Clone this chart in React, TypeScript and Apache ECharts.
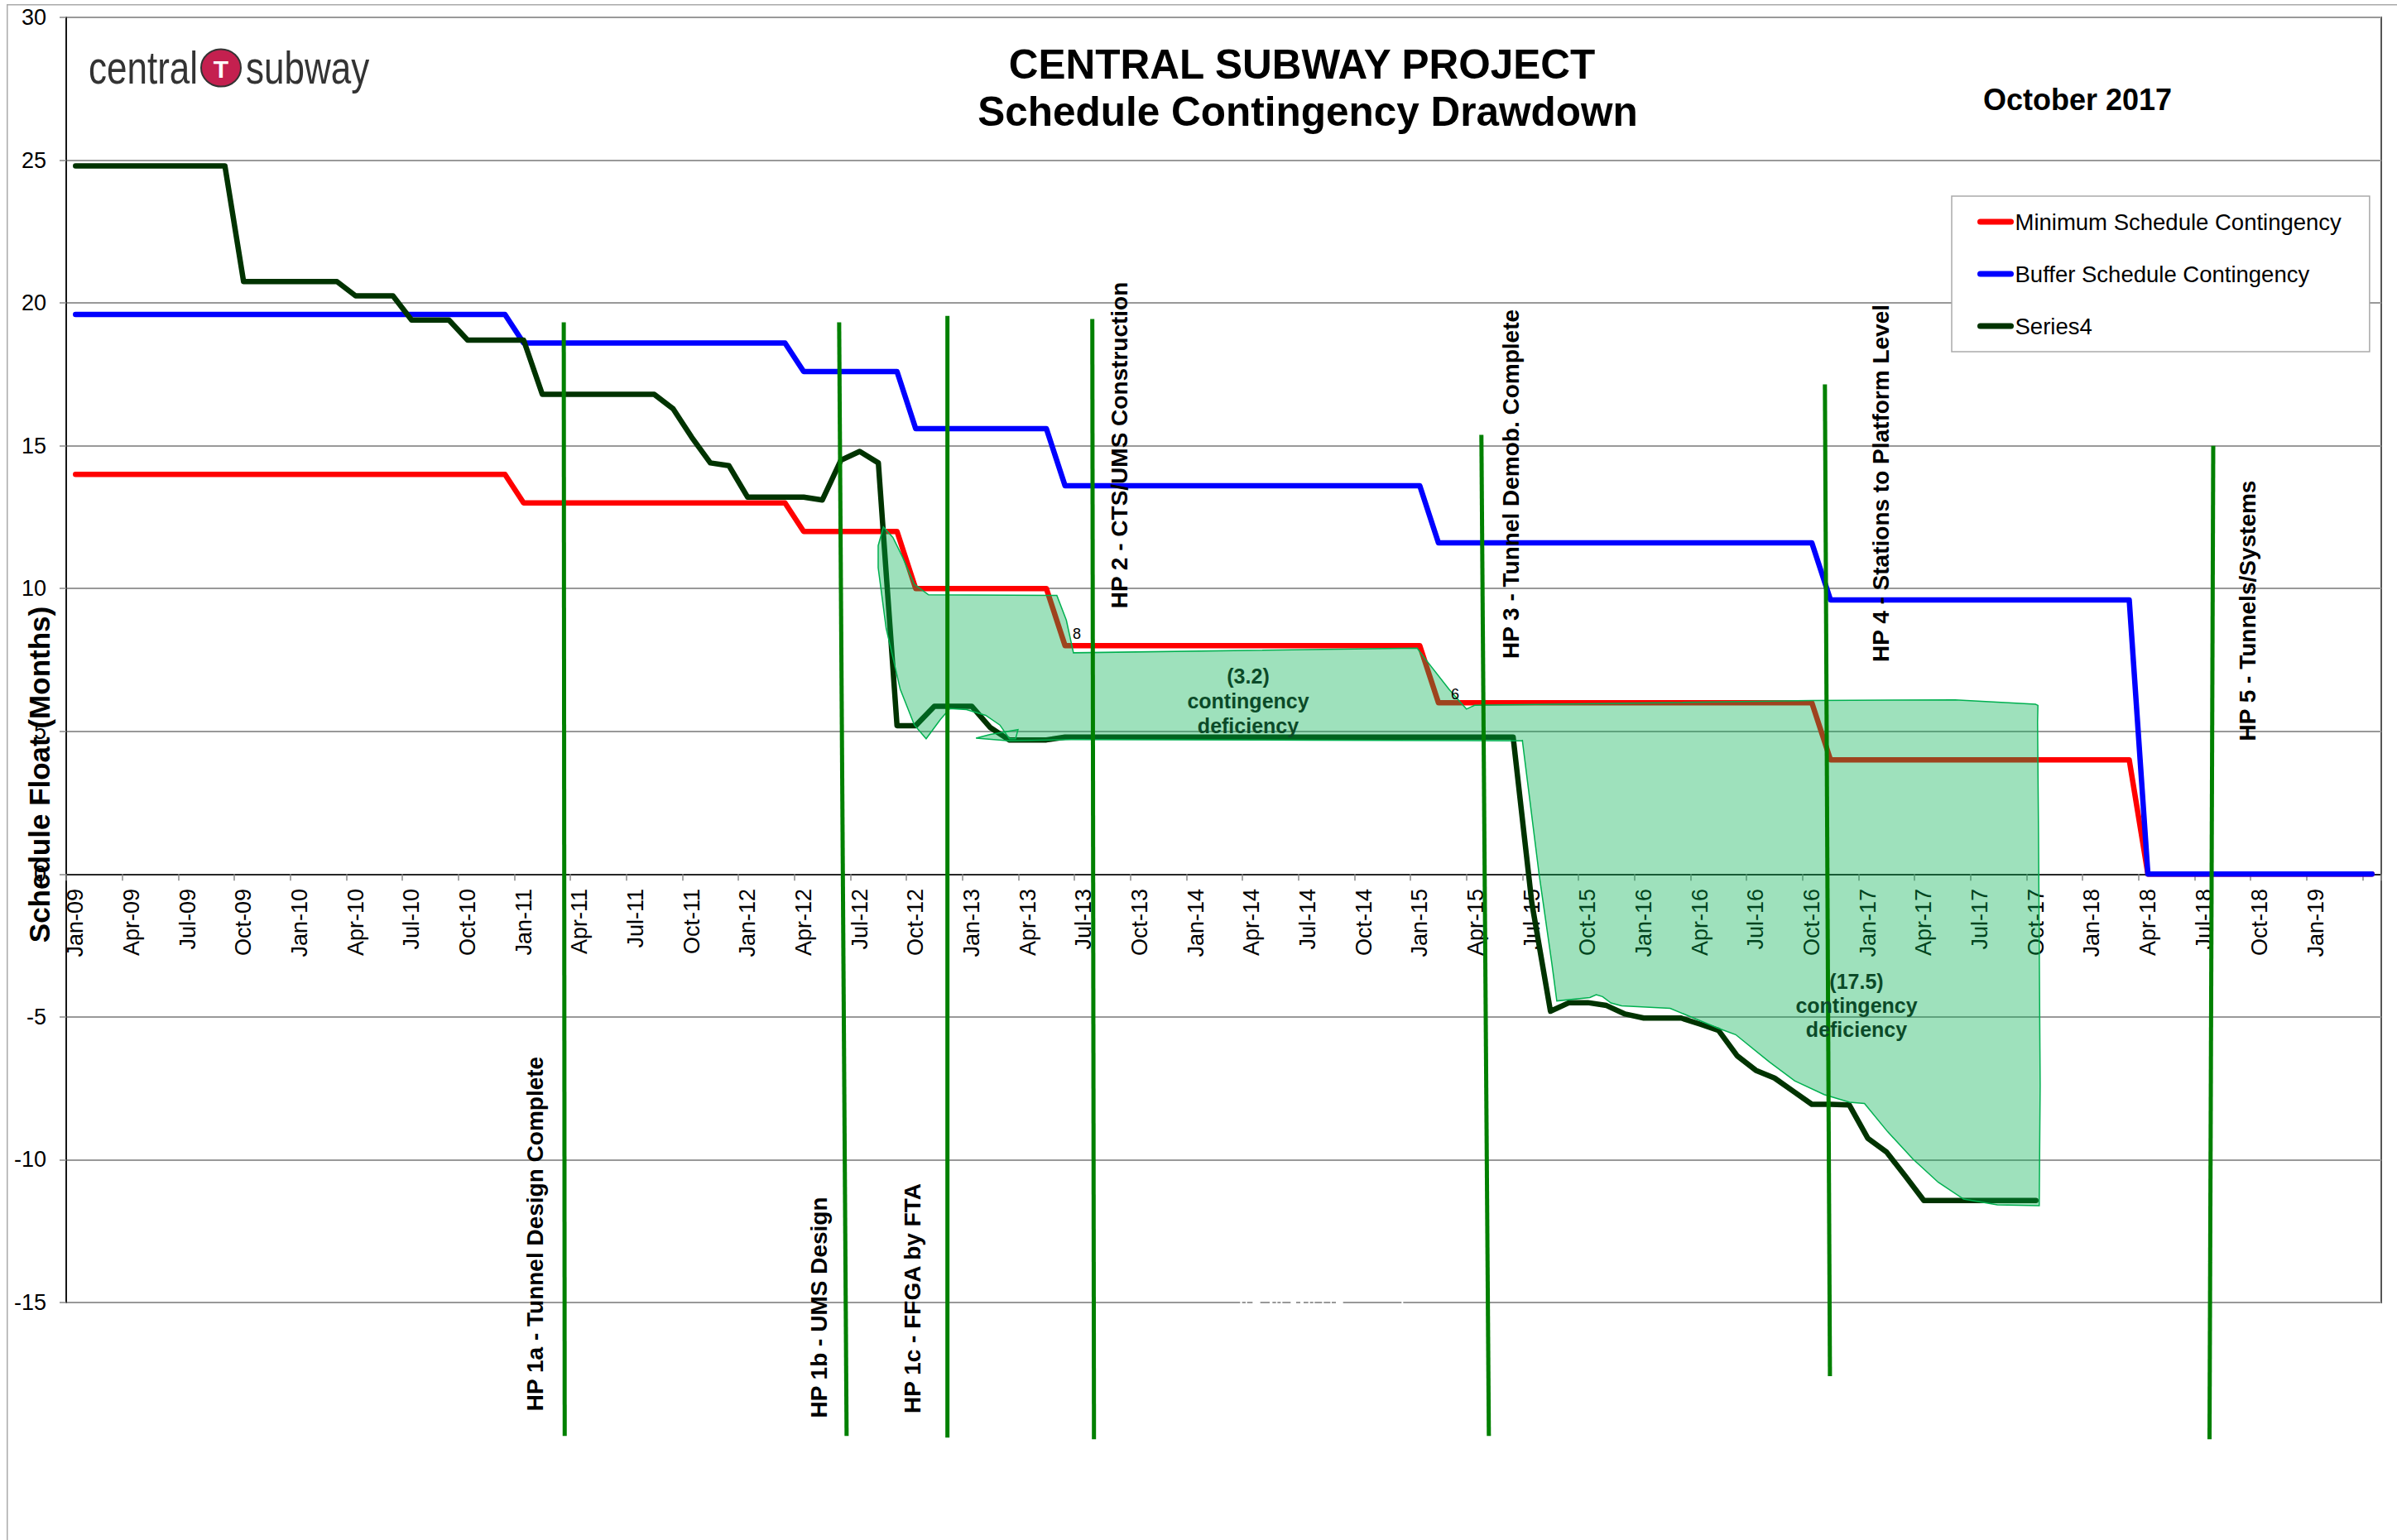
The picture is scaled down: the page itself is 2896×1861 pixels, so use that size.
import React, { useEffect, useRef } from "react";
import * as echarts from "echarts";

const FONT = "Liberation Sans";
const monthNames = ["Jan", "Feb", "Mar", "Apr", "May", "Jun", "Jul", "Aug", "Sep", "Oct", "Nov", "Dec"];
const categories: string[] = [];
for (let i = 0; i < 124; i++) {
  const yr = 9 + Math.floor(i / 12);
  categories.push(`${monthNames[i % 12]}-${String(yr).padStart(2, "0")}`);
}

const minimumContingency = [
  14,14,14,14,14,14,14,14,14,14,14,14,14,14,14,14,14,14,14,14,14,14,14,14,
  13,13,13,13,13,13,13,13,13,13,13,13,13,13,13,
  12,12,12,12,12,12,
  10,10,10,10,10,10,10,10,
  8,8,8,8,8,8,8,8,8,8,8,8,8,8,8,8,8,8,8,8,
  6,6,6,6,6,6,6,6,6,6,6,6,6,6,6,6,6,6,6,6,6,
  4,4,4,4,4,4,4,4,4,4,4,4,4,4,4,4,4,
  0,0,0,0,0,0,0,0,0,0,0,0,0,
];
const bufferContingency = [
  19.6,19.6,19.6,19.6,19.6,19.6,19.6,19.6,19.6,19.6,19.6,19.6,19.6,19.6,19.6,19.6,19.6,19.6,19.6,19.6,19.6,19.6,19.6,19.6,
  18.6,18.6,18.6,18.6,18.6,18.6,18.6,18.6,18.6,18.6,18.6,18.6,18.6,18.6,18.6,
  17.6,17.6,17.6,17.6,17.6,17.6,
  15.6,15.6,15.6,15.6,15.6,15.6,15.6,15.6,
  13.6,13.6,13.6,13.6,13.6,13.6,13.6,13.6,13.6,13.6,13.6,13.6,13.6,13.6,13.6,13.6,13.6,13.6,13.6,13.6,
  11.6,11.6,11.6,11.6,11.6,11.6,11.6,11.6,11.6,11.6,11.6,11.6,11.6,11.6,11.6,11.6,11.6,11.6,11.6,11.6,11.6,
  9.6,9.6,9.6,9.6,9.6,9.6,9.6,9.6,9.6,9.6,9.6,9.6,9.6,9.6,9.6,9.6,9.6,
  0,0,0,0,0,0,0,0,0,0,0,0,0,
];
const series4 = [
  24.8,24.8,24.8,24.8,24.8,24.8,24.8,24.8,24.8,
  20.75,20.75,20.75,20.75,20.75,20.75,
  20.25,20.25,20.25,
  19.4,19.4,19.4,
  18.7,18.7,18.7,18.7,
  16.8,16.8,16.8,16.8,16.8,16.8,16.8,
  16.3,15.3,14.4,14.3,13.2,13.2,13.2,13.2,13.1,14.5,14.8,14.4,
  5.2,5.2,5.88,5.88,5.88,5.13,4.7,4.7,4.7,
  4.8,4.8,4.8,4.8,4.8,4.8,4.8,4.8,4.8,4.8,4.8,4.8,4.8,4.8,4.8,4.8,4.8,4.8,4.8,4.8,4.8,4.8,4.8,4.8,4.8,
  -1.0,-4.8,-4.5,-4.5,-4.6,-4.9,-5.04,-5.04,-5.04,-5.25,-5.47,-6.36,-6.87,-7.14,-7.6,-8.06,-8.06,-8.08,-9.25,-9.73,-10.57,
  -11.43,-11.43,-11.43,-11.43,-11.43,-11.43,-11.43,
];

// Hold-point marker lines: [month position, value] at each end
const hp1a = [[26.15, 19.32], [26.2, -19.67]];
const hp1b = [[40.9, 19.32], [41.3, -19.67]];
const hp1c = [[46.7, 19.55], [46.7, -19.73]];
const hp2 = [[54.46, 19.44], [54.55, -19.79]];
const hp3 = [[75.3, 15.38], [75.7, -19.67]];
const hp4 = [[93.7, 17.15], [93.97, -17.58]];
const hp5 = [[114.5, 15.0], [114.3, -19.79]];
const hpLines = [hp1a, hp1b, hp1c, hp2, hp3, hp4, hp5];
const hpLineNames = ["HP 1a", "HP 1b", "HP 1c", "HP 2", "HP 3", "HP 4", "HP 5"];

// Outline of the shaded deficiency area: [month position, value]
const deficiencyOutline = [
  [43.27,12.16],[43.78,11.79],[44.29,11.11],[44.93,10.15],[45.69,9.78],[52.56,9.76],[53.07,8.89],[53.45,7.75],
  [71.86,7.91],[72.29,7.54],[73.56,6.48],[74.2,6.0],[74.5,5.78],[74.96,5.92],[75.0,5.91],[92.99,6.08],[100.67,6.1],
  [104.98,5.95],[105.11,5.91],[105.09,5.32],[105.14,1.48],[105.23,-7.39],[105.18,-11.61],[102.94,-11.58],[101.13,-11.38],
  [99.77,-10.79],[98.42,-9.98],[97.06,-9.02],[95.82,-8.03],[95.02,-7.99],[93.66,-7.72],[92.08,-7.24],[90.73,-6.58],
  [88.92,-5.62],[88.01,-5.4],[85.41,-4.7],[82.81,-4.61],[82.24,-4.51],[81.79,-4.29],[81.45,-4.22],[81.11,-4.32],
  [79.34,-4.44],[79.07,-3.11],[78.39,0],[77.49,4.7],[77.5,4.67],[66.05,4.69],[53.33,4.71],[50.02,4.67],[48.23,4.76],
  [49.0,4.89],[50.48,5.06],[50.35,4.74],[50.02,4.74],[49.51,5.22],[48.75,5.56],[47.72,5.76],[46.83,5.8],[46.33,5.42],
  [45.56,4.74],[44.93,5.22],[44.17,6.48],[43.42,8.6],[42.99,10.73],[42.99,11.5],
];

const hpLabels = [
  ["HP 1a - Tunnel Design Complete", 646.5, 1491],
  ["HP 1b - UMS Design", 989, 1580],
  ["HP 1c - FFGA by FTA", 1102, 1569],
  ["HP 2 - CTS/UMS Construction", 1352, 538],
  ["HP 3 - Tunnel Demob. Complete", 1825, 585],
  ["HP 4 - Stations to Platform Level", 2272, 584],
  ["HP 5 - Tunnels/Systems", 2715, 738],
] as [string, number, number][];

const whiteGaps = [[115,122],[135,140],[160,188],[222,232],[245,250],[262,268],[298,318],[333,345],[362,368],[380,385],[412,418],[442,447],[462,488],[700,706]];

const vText = (text: string, x: number, y: number, font = `bold 28px "${FONT}"`, z = 20) => ({
  type: "text", x, y, rotation: Math.PI / 2, z, silent: true,
  style: { text, fill: "#000", font, align: "center", verticalAlign: "middle" },
});
const hText = (text: string, x: number, y: number, font: string, fill: string, align = "center", z = 20, scaleY = 1) => ({
  type: "text", x, y, z, scaleY, silent: true, style: { text, fill, font, align, verticalAlign: "middle" },
});

export default function App() {
  const ref = useRef<HTMLDivElement>(null);
  useEffect(() => {
    document.body.style.margin = "0";
    const chart = echarts.init(ref.current!, null, { renderer: "svg" });
    const commonLine = { type: "line", symbol: "none", showSymbol: false, silent: true, xAxisIndex: 0, yAxisIndex: 0 };
    const styleLine = (color: string) => ({ color, width: 6.5, cap: "round", join: "round" });
    const titleFont = { fontFamily: FONT, fontSize: 49.5, fontWeight: "bold", color: "#000", lineHeight: 57 };
    const option: any = {
      animation: false,
      backgroundColor: "#fff",
      textStyle: { fontFamily: FONT },
      title: [
        { text: "CENTRAL SUBWAY PROJECT", left: 1573, top: 49, textAlign: "center", padding: 0, textStyle: titleFont },
        { text: "Schedule Contingency Drawdown", left: 1580, top: 106, textAlign: "center", padding: 0, textStyle: titleFont },
      ],
      legend: {
        orient: "vertical", left: 2358, top: 237, selectedMode: false,
        data: ["Minimum Schedule Contingency", "Buffer Schedule Contingency", "Series4"],
        backgroundColor: "#fff", borderColor: "#aaa", borderWidth: 1.5, borderRadius: 0,
        padding: [17, 34, 17, 31], itemWidth: 37, itemHeight: 27, itemGap: 35,
        itemStyle: { opacity: 0 },
        lineStyle: { width: 7, cap: "round" },
        textStyle: { fontFamily: FONT, fontSize: 27.5, color: "#000" },
      },
      grid: { left: 80, right: 19, top: 21, bottom: 287, show: true, borderColor: "#555", borderWidth: 2, containLabel: false, outerBoundsMode: "none" },
      xAxis: [
        {
          type: "category", data: categories, boundaryGap: true,
          axisLine: { onZero: true, lineStyle: { color: "#000", width: 1.5 } },
          axisTick: { show: true, interval: 2, length: 8, lineStyle: { color: "#888", width: 1.5 } },
          axisLabel: {
            interval: (i: number) => i % 3 === 0 && i < 123,
            rotate: 90, margin: -500, fontFamily: FONT, fontSize: 27, color: "#000",
          },
          splitLine: { show: false },
        },
        { type: "value", min: -0.5, max: 123.5, show: false, splitLine: { show: false } },
      ],
      yAxis: {
        type: "value", min: -15, max: 30, interval: 5,
        axisLine: { show: true, onZero: false, lineStyle: { color: "#000", width: 1.5 } },
        axisTick: { show: true, length: 8, lineStyle: { color: "#888", width: 1.5 } },
        axisLabel: { margin: 24, fontFamily: FONT, fontSize: 27, color: "#000" },
        splitLine: { show: true, lineStyle: { color: "#999", width: 2 } },
      },
      series: [
        { ...commonLine, name: "Minimum Schedule Contingency", data: minimumContingency, lineStyle: styleLine("#ff0000"), itemStyle: { color: "#ff0000" }, z: 3 },
        { ...commonLine, name: "Buffer Schedule Contingency", data: bufferContingency, lineStyle: styleLine("#0000ff"), itemStyle: { color: "#0000ff" }, z: 3 },
        { ...commonLine, name: "Series4", data: series4, lineStyle: styleLine("#003300"), itemStyle: { color: "#003300" }, z: 3 },
        {
          type: "custom", name: "Deficiency area", xAxisIndex: 1, yAxisIndex: 0, silent: true, z: 5,
          data: deficiencyOutline,
          encode: { x: 0, y: 1 },
          renderItem: (params: any, api: any) => {
            if (params.dataIndex !== 0) return null;
            return {
              type: "polygon",
              shape: { points: deficiencyOutline.map((p) => api.coord(p)) },
              style: { fill: "rgba(0,176,80,0.38)", stroke: "#00b050", lineWidth: 1.5 },
            };
          },
        },
        ...hpLines.map((data, i) => ({
          type: "line", name: hpLineNames[i], xAxisIndex: 1, yAxisIndex: 0, data, symbol: "none", showSymbol: false,
          silent: true, clip: false, z: 6, lineStyle: { color: "#008000", width: 5, cap: "butt" },
        })),
      ],
      graphic: [
        { type: "rect", z: 0, silent: true, shape: { x: 8, y: 5, width: 1.5, height: 1856 }, style: { fill: "#aaa" } },
        { type: "rect", z: 0, silent: true, shape: { x: 8, y: 5, width: 2888, height: 1.5 }, style: { fill: "#aaa" } },
        vText("Schedule Float (Months)", 47, 936, `bold 35px "${FONT}"`),
        hText("central", 107, 82, `44px "${FONT}"`, "#333", "left", 20, 1.25),
        hText("subway", 297, 82, `44px "${FONT}"`, "#333", "left", 20, 1.25),
        { type: "ellipse", z: 20, silent: true, shape: { cx: 267, cy: 82, rx: 24, ry: 22.5 }, style: { fill: "#c4204f", stroke: "#333", lineWidth: 2 } },
        hText("T", 267, 83, `bold 30px "${FONT}"`, "#fff"),
        hText("October 2017", 2510, 120, `bold 36px "${FONT}"`, "#000"),
        hText("8", 1301, 766, `18px "${FONT}"`, "#000"),
        hText("6", 1758, 839, `18px "${FONT}"`, "#000"),
        hText("(3.2)", 1508, 817, `bold 25px "${FONT}"`, "#0b4a28"),
        hText("contingency", 1508, 847, `bold 25px "${FONT}"`, "#0b4a28"),
        hText("deficiency", 1508, 877, `bold 25px "${FONT}"`, "#0b4a28"),
        hText("(17.5)", 2243, 1186, `bold 25px "${FONT}"`, "#0b4a28"),
        hText("contingency", 2243, 1215, `bold 25px "${FONT}"`, "#0b4a28"),
        hText("deficiency", 2243, 1244, `bold 25px "${FONT}"`, "#0b4a28"),
        ...hpLabels.map(([t, x, y]) => vText(t, x, y)),
        ...whiteGaps.map(([a, b]) => ({
          type: "rect", z: 30, silent: true,
          shape: { x: 1460 + a / 3, y: 1571, width: (b - a) / 3, height: 6 }, style: { fill: "#fff" },
        })),
      ],
    };
    chart.setOption(option);
    return () => chart.dispose();
  }, []);
  return <div ref={ref} style={{ position: "absolute", left: 0, top: 0, width: 2896, height: 1861 }} />;
}
